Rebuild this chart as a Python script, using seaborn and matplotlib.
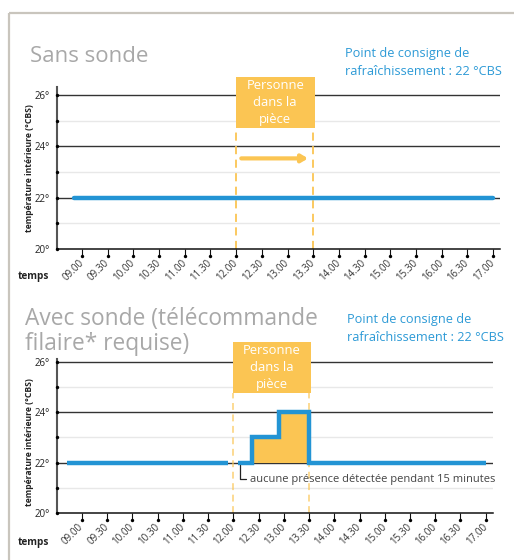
import matplotlib
matplotlib.use("Agg")
import matplotlib.pyplot as plt
from matplotlib.patches import Rectangle
from matplotlib.lines import Line2D
from matplotlib import transforms
import pandas as pd
import seaborn as sns

sns.set_theme(style="white")
plt.rcParams['font.family'] = ['Open Sans', 'DejaVu Sans']

# --- data -------------------------------------------------------------
tick_hours = [9.0, 9.5, 10.0, 10.5, 11.0, 11.5, 12.0, 12.5, 13.0,
              13.5, 14.0, 14.5, 15.0, 15.5, 16.0, 16.5, 17.0]
time_labels = ["09.00", "09.30", "10.00", "10.30", "11.00", "11.30",
               "12.00", "12.30", "13.00", "13.30", "14.00", "14.30",
               "15.00", "15.30", "16.00", "16.30", "17.00"]
temp_major = [20, 22, 24, 26]
temp_labels = ["20°", "22°", "24°", "26°"]
temp_minor = [21, 23, 25]

setpoint = 22
presence = [12.0, 13.5]           # person in the room

# without probe: room stays at set point
nop_time = [8.85, 17.0]
nop_temp = [22, 22]

# with probe (wired remote)
before_time = [8.70, 11.89]
before_temp = [22, 22]
after_time = [12.09, 12.37, 12.90, 13.50, 17.0]
after_temp = [22, 23, 24, 22, 22]

BLUE = "#2394d4"
TXT_BLUE = "#2d9ad6"
ORANGE = "#fbc553"
GREY_TITLE = "#a8a8a8"
FRAME = "#c9c5bd"

W, H = 514, 560
fig = plt.figure(figsize=(W / 100, H / 100), dpi=100)


def fx(x):
    return x / W


def fy(y):
    return 1 - y / H


def setup_axes(ax, xlim, ylim):
    ax.set_xlim(*xlim)
    ax.set_ylim(*ylim)
    for s in ("top", "right"):
        ax.spines[s].set_visible(False)
    ax.spines["left"].set_color("#555555")
    ax.spines["left"].set_linewidth(1.5)
    ax.spines["bottom"].set_color("#111111")
    ax.spines["bottom"].set_linewidth(1.1)
    for v in temp_minor:
        ax.axhline(v, color="#e8e8e8", lw=1.0, zorder=1)
    for v in temp_major[1:]:
        ax.axhline(v, color="#333333", lw=1.0, zorder=1)
    ax.set_yticks(temp_major)
    ax.set_yticklabels(temp_labels)
    ax.tick_params(axis="y", length=0, pad=5, labelsize=7, labelcolor="#222222")
    ax.set_xticks(tick_hours)
    ax.set_xticklabels(time_labels, rotation=45, ha="right", va="center",
                       rotation_mode="anchor")
    ax.tick_params(axis="x", direction="out", length=5, width=0.8,
                   color="#111111", pad=4, labelsize=7, labelcolor="#333333",
                   bottom=True)
    # dots on the temperature axis
    ax.scatter([xlim[0]] * 7, list(range(20, 27)), s=6, color="black",
               clip_on=False, zorder=5, linewidths=0)
    # dots at the end of the time ticks
    off = ax.transData + transforms.ScaledTranslation(0, -5 / 72, fig.dpi_scale_trans)
    ax.scatter(tick_hours, [ylim[0]] * len(tick_hours), s=6, color="black",
               clip_on=False, zorder=5, linewidths=0, transform=off)
    ax.grid(False)


def set_ylab(ax, xpos, ypos):
    ax.set_xlabel("")
    ax.set_ylabel("température intérieure (°CBS)", fontsize=6.2,
                  fontweight="bold", color="#222222")
    ax.yaxis.label.set_verticalalignment("center")
    ax.yaxis.set_label_coords(xpos, ypos)


def presence_box(ax, y0, y1):
    x0 = presence[0] - 0.01
    ax.add_patch(Rectangle((x0, y0), presence[1] - presence[0] + 0.04, y1 - y0,
                           facecolor=ORANGE, edgecolor="none",
                           clip_on=False, zorder=4))
    ax.text((presence[0] + presence[1]) / 2 + 0.01, (y0 + y1) / 2,
            "Personne\ndans la\npièce", color="white", fontsize=9.4,
            ha="center", va="center", linespacing=1.4, zorder=5)


# ---------------- top chart : without probe ----------------
ax1 = fig.add_axes([fx(57), fy(249), fx(500) - fx(57), fy(87.3) - fy(249)])
setup_axes(ax1, (8.513, 17.136), (20, 26.3))

ax1.vlines(presence[0], 20, 24.72, colors=ORANGE, lw=1.3,
           linestyles=(0, (4.5, 3)), zorder=2, clip_on=False)
ax1.vlines(presence[1], 20, 26.7, colors=ORANGE, lw=1.3,
           linestyles=(0, (4.5, 3)), zorder=2, clip_on=False)

df_nop = pd.DataFrame({"heure": nop_time, "temp": nop_temp})
sns.lineplot(data=df_nop, x="heure", y="temp", ax=ax1, color=BLUE, lw=3.2,
             estimator=None, sort=False, solid_capstyle="round", zorder=3)
set_ylab(ax1, -0.063, 0.50)

ax1.annotate("", xy=(13.4, 23.53), xytext=(12.1, 23.53),
             arrowprops=dict(arrowstyle="-|>,head_length=0.3,head_width=0.18",
                             lw=3.0, color=ORANGE, shrinkA=0, shrinkB=0))
presence_box(ax1, 24.72, 26.7)

# ---------------- bottom chart : with probe ----------------
ax2 = fig.add_axes([fx(57), fy(513.3), fx(492.7) - fx(57), fy(359) - fy(513.3)])
setup_axes(ax2, (8.505, 17.139), (20, 26.1))

ax2.vlines(presence[0], 20, 24.76, colors=ORANGE, lw=1.1, alpha=0.8,
           linestyles=(0, (4.5, 3)), zorder=2, clip_on=False)
ax2.vlines(presence[1], 20, 24.76, colors=ORANGE, lw=1.1, alpha=0.8,
           linestyles=(0, (4.5, 3)), zorder=2, clip_on=False)

ax2.fill_between(after_time, setpoint, after_temp, step="post",
                 color=ORANGE, lw=0, zorder=2)
df_before = pd.DataFrame({"heure": before_time, "temp": before_temp})
df_after = pd.DataFrame({"heure": after_time, "temp": after_temp})
sns.lineplot(data=df_before, x="heure", y="temp", ax=ax2, color=BLUE, lw=3.2,
             estimator=None, sort=False, solid_capstyle="butt", zorder=3)
sns.lineplot(data=df_after, x="heure", y="temp", ax=ax2, color=BLUE, lw=3.2,
             estimator=None, sort=False, drawstyle="steps-post",
             solid_capstyle="butt", solid_joinstyle="miter", zorder=3)
set_ylab(ax2, -0.064, 0.46)

# bracket + note
bx = after_time[0] + 0.04
ax2.plot([bx, bx, bx + 0.12], [setpoint - 0.1, 21.34, 21.34],
         color="#222222", lw=0.9, zorder=3)
ax2.text(bx + 0.2, 21.34, "aucune présence détectée pendant 15 minutes",
         fontsize=8.0, color="#444444", ha="left", va="center")

presence_box(ax2, 24.76, 26.76)

# ---------------- titles & notes ----------------
fig.text(fx(30), fy(62), "Sans sonde", fontsize=16, color=GREY_TITLE,
         va="baseline", ha="left")
fig.text(fx(25), fy(325), "Avec sonde (télécommande", fontsize=16.4,
         color=GREY_TITLE, va="baseline", ha="left")
fig.text(fx(25), fy(350.5), "filaire* requise)", fontsize=16.4,
         color=GREY_TITLE, va="baseline", ha="left")

for x0, ys in ((345, (57.3, 75)), (347, (322.7, 340.7))):
    fig.text(fx(x0), fy(ys[0]), "Point de consigne de", fontsize=9.2,
             color=TXT_BLUE, va="baseline", ha="left")
    fig.text(fx(x0), fy(ys[1]), "rafraîchissement : 22 °CBS", fontsize=9.2,
             color=TXT_BLUE, va="baseline", ha="left")

fig.text(fx(18), fy(276.5), "temps", fontsize=7.2, fontweight="bold",
         color="#222222", va="center", ha="left")
fig.text(fx(18), fy(543), "temps", fontsize=7.2, fontweight="bold",
         color="#222222", va="center", ha="left")

# outer frame
fig.add_artist(Line2D([fx(9), fx(9)], [0, fy(12.7)], transform=fig.transFigure,
                      color=FRAME, lw=1.6, solid_capstyle="butt"))
fig.add_artist(Line2D([fx(9), 1], [fy(12.7), fy(12.7)], transform=fig.transFigure,
                      color=FRAME, lw=1.6, solid_capstyle="butt"))

fig.savefig("out.png", dpi=100)
